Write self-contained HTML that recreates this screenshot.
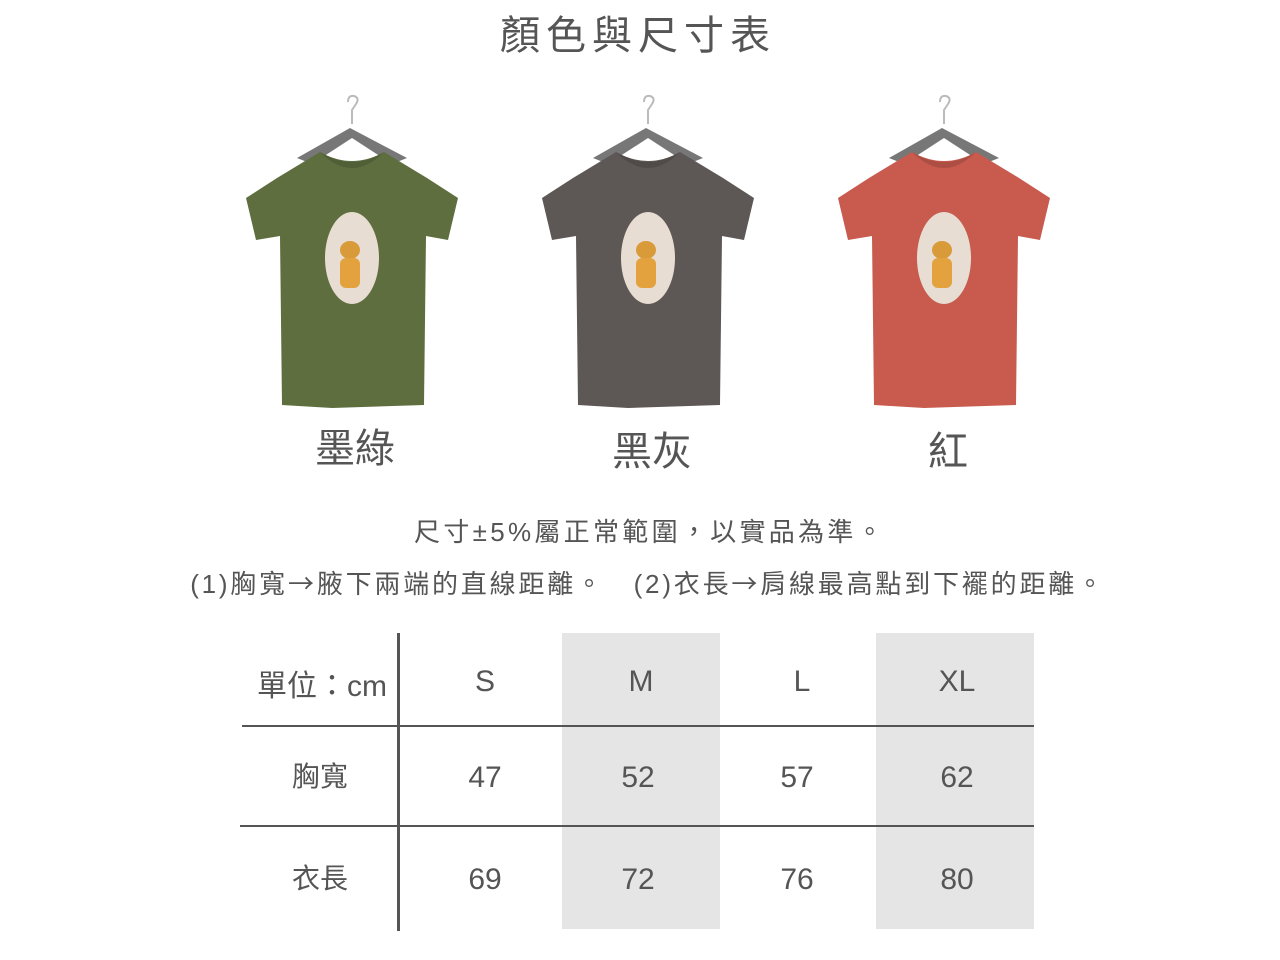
<!DOCTYPE html>
<html><head><meta charset="utf-8"><style>
body{margin:0;background:#fff;width:1280px;height:960px;position:relative;overflow:hidden;font-family:"Liberation Sans","Noto Sans CJK TC",sans-serif;color:#555}
.t{position:absolute;white-space:nowrap;transform:translateX(-50%)}
</style></head><body>
<div class="t" style="left:638px;top:3px;font-size:40px;letter-spacing:6px;color:#555">顏色與尺寸表</div>
<svg width="1280" height="480" style="position:absolute;left:0;top:0">
<defs>
<g id="shirt">
<path d="M-4,-48 q0,-7 6,-6 q6,2 2,8 l-4,6 v14" fill="none" stroke="#bbb" stroke-width="2"/>
<path d="M-2,-22 L-55,8 L-40,14 L0,-12 L40,14 L55,8 Z" fill="#777"/>
<path d="M-32,2 L-75,28 L-106,48 L-96,90 L-72,86 L-70,255 L-20,258 L72,255 L74,86 L96,90 L106,48 L75,28 L32,2 Q0,20 -32,2 Z" fill="var(--c)"/>
<path d="M-32,2 Q0,22 32,2 Q0,34 -32,2 Z" fill="#0002"/>
<ellipse cx="0" cy="108" rx="27" ry="46" fill="#e8ddd2"/>
<ellipse cx="-2" cy="100" rx="10" ry="9" fill="#d99a3a"/>
<rect x="-12" y="108" width="20" height="30" rx="6" fill="#e3a23e"/>
</g>
</defs>
<use href="#shirt" x="352" y="150" style="--c:#5e6e3f"/>
<use href="#shirt" x="648" y="150" style="--c:#5d5755"/>
<use href="#shirt" x="944" y="150" style="--c:#c85a4e"/>
</svg>
<div class="t" style="left:355px;top:416px;font-size:40px">墨綠</div>
<div class="t" style="left:652px;top:419px;font-size:40px">黑灰</div>
<div class="t" style="left:948px;top:419px;font-size:40px">紅</div>
<div class="t" style="left:650px;top:512px;font-size:26px;letter-spacing:3.3px">尺寸±5%屬正常範圍，以實品為準。</div>
<div class="t" style="left:648px;top:564px;font-size:26px;letter-spacing:2.8px">(1)胸寬<span style="font-family:'Noto Sans CJK TC'">→</span>腋下兩端的直線距離。　(2)衣長<span style="font-family:'Noto Sans CJK TC'">→</span>肩線最高點到下襬的距離。</div>
<div style="position:absolute;left:562px;top:633px;width:158px;height:296px;background:#e5e5e5"></div>
<div style="position:absolute;left:876px;top:633px;width:158px;height:296px;background:#e5e5e5"></div>
<div style="position:absolute;left:397px;top:633px;width:3px;height:298px;background:#555"></div>
<div style="position:absolute;left:242px;top:725px;width:792px;height:2px;background:#555"></div>
<div style="position:absolute;left:240px;top:825px;width:794px;height:2px;background:#555"></div>
<div style="font-size:30px">
<div class="t" style="left:322px;top:661px">單位<span style="font-family:'Noto Sans CJK TC'">：</span>cm</div>
<div class="t" style="left:485px;top:665px">S</div>
<div class="t" style="left:641px;top:665px">M</div>
<div class="t" style="left:802px;top:665px">L</div>
<div class="t" style="left:957px;top:665px">XL</div>
<div class="t" style="left:320px;top:755px;font-size:28px">胸寬</div>
<div class="t" style="left:485px;top:761px">47</div>
<div class="t" style="left:638px;top:761px">52</div>
<div class="t" style="left:797px;top:761px">57</div>
<div class="t" style="left:957px;top:761px">62</div>
<div class="t" style="left:320px;top:857px;font-size:28px">衣長</div>
<div class="t" style="left:485px;top:863px">69</div>
<div class="t" style="left:638px;top:863px">72</div>
<div class="t" style="left:797px;top:863px">76</div>
<div class="t" style="left:957px;top:863px">80</div>
</div>
</body></html>
